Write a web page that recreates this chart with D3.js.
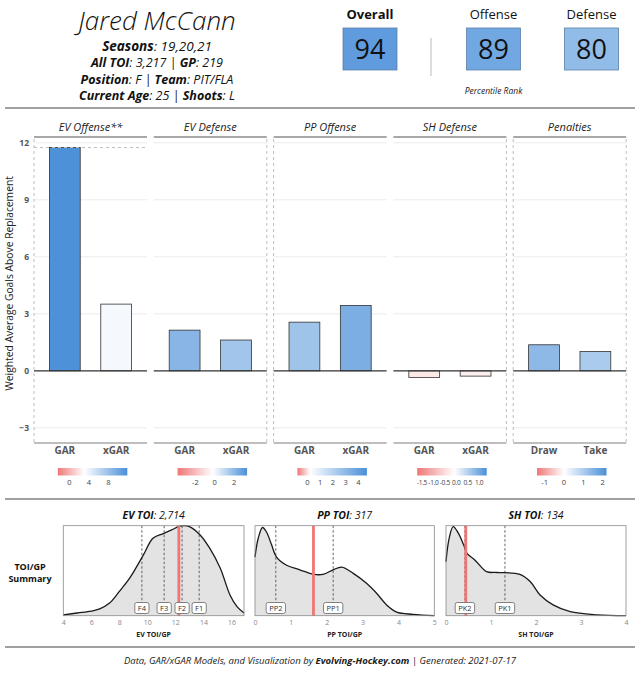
<!DOCTYPE html>
<html>
<head>
<meta charset="utf-8">
<script src="https://cdn.jsdelivr.net/npm/d3@7"></script>
<style>
  body { margin: 0; background: #fff; }
  svg { font-family: 'Open Sans', 'DejaVu Sans', sans-serif; }
</style>
</head>
<body>
<svg id="viz" width="640" height="680"></svg>
<script>
const playerName = 'Jared McCann'
const infoLines = [
  [['Seasons', true], [': 19,20,21', false]],
  [['All TOI', true], [': 3,217 | ', false], ['GP', true], [': 219', false]],
  [['Position', true], [': F | ', false], ['Team', true], [': PIT/FLA', false]],
  [['Current Age', true], [': 25 | ', false], ['Shoots', true], [': L', false]]
]
const rankLabels = ['Overall', 'Offense', 'Defense']
const rankValues = [94, 89, 80]

const categories = ['EV Offense**', 'EV Defense', 'PP Offense', 'SH Defense', 'Penalties']
const barLabels = [['GAR', 'xGAR'], ['GAR', 'xGAR'], ['GAR', 'xGAR'], ['GAR', 'xGAR'], ['Draw', 'Take']]
const barValues = [[11.75, 3.51], [2.14, 1.62], [2.56, 3.44], [-0.35, -0.28], [1.37, 1.02]]
// low / mid (white) / high of each panel's fill legend
const legendDomains = [[-2.4, 3, 11.9], [-3.84, -0.2, 3.35], [-0.78, 0.2, 4.66], [-1.71, -0.08, 1.33], [-1.4, 0, 2.2]]
const legendTicks = [[0, 4, 8], [-2, 0, 2], [0, 1, 2, 3, 4], [-1.5, -1, -0.5, 0, 0.5, 1], [-1, 0, 1, 2]]
const yTicks = [-3, 0, 3, 6, 9, 12]

// TOI/GP densities (relative height), league markers and the player's own TOI/GP
const toiTitles = [['EV TOI', ': 2,714'], ['PP TOI', ': 317'], ['SH TOI', ': 134']]
const toiAxisTitles = ['EV TOI/GP', 'PP TOI/GP', 'SH TOI/GP']
const toiDomains = [[4, 16.9], [0, 5], [0, 4]]
const toiTicks = [[4, 6, 8, 10, 12, 14, 16], [0, 1, 2, 3, 4, 5], [0, 1, 2, 3, 4]]
const evDensity = [[4, 0.01], [5, 0.03], [6, 0.05], [6.6, 0.075], [7.3, 0.14], [8, 0.27], [8.75, 0.42], [9.7, 0.67],
  [10.4, 0.86], [11.1, 0.91], [11.7, 0.95], [12.3, 0.995], [12.6, 1.0], [13, 0.99], [13.75, 0.9], [14.45, 0.75],
  [15.2, 0.53], [15.9, 0.23], [16.4, 0.1], [16.9, 0.03]]
const ppDensity = [[0, 0.65], [0.09, 0.86], [0.21, 0.98], [0.32, 0.93], [0.46, 0.79], [0.6, 0.65], [0.88, 0.56],
  [1.25, 0.51], [1.63, 0.46], [1.9, 0.46], [2.18, 0.51], [2.42, 0.54], [2.74, 0.47], [3.11, 0.36], [3.39, 0.25],
  [3.67, 0.12], [3.95, 0.04], [4.41, 0.015], [5, 0.0]]
const shDensity = [[0, 0.6], [0.07, 0.86], [0.16, 0.99], [0.27, 0.92], [0.39, 0.79], [0.47, 0.69], [0.64, 0.62],
  [0.9, 0.49], [1.13, 0.48], [1.64, 0.46], [1.87, 0.38], [2.09, 0.23], [2.38, 0.12], [2.76, 0.045], [3.35, 0.01], [4, 0.0]]
const toiMarkers = [
  [['F4', 9.61], ['F3', 11.2], ['F2', 12.48], ['F1', 13.7]],
  [['PP2', 0.58], ['PP1', 2.18]],
  [['PK2', 0.42], ['PK1', 1.31]]
]
const playerToiGp = [12.25, 1.63, 0.44]

const footerParts = [['Data, GAR/xGAR Models, and Visualization by ', false], ['Evolving-Hockey.com', true], [' | Generated: 2021-07-17', false]]

// ---- Drawing ----
const svg = d3.select('#viz')
const RED = '#f07676', BLUE = '#4a8fd8'

let rule = (y) => {
  svg.append('line').attr('x1', 5).attr('x2', 635).attr('y1', y).attr('y2', y)
    .attr('stroke', '#a0a0a0').attr('stroke-width', 2)
}

// header: name and info lines
svg.append('text').attr('x', 157).attr('y', 30).attr('text-anchor', 'middle')
  .attr('font-size', 26).attr('font-style', 'italic').attr('font-weight', 300).attr('fill', '#111')
  .text(playerName)

infoLines.forEach((line, i) => {
  let t = svg.append('text').attr('x', 157).attr('y', 51 + i * 16.3).attr('text-anchor', 'middle')
    .attr('font-size', i === 0 ? 13.5 : 12.5).attr('font-style', 'italic').attr('fill', '#111')
  line.forEach(seg => {
    t.append('tspan').attr('font-weight', seg[1] ? 'bold' : 'normal').text(seg[0])
  })
})

// percentile rank boxes
const rankX = [370, 493.5, 591.5]
const rankColor = d3.scaleLinear().domain([50, 100]).range(['#ffffff', BLUE])
rankLabels.forEach((lab, i) => {
  svg.append('text').attr('x', rankX[i]).attr('y', 19).attr('text-anchor', 'middle')
    .attr('font-size', 13).attr('font-weight', i === 0 ? 'bold' : 'normal').attr('fill', '#111').text(lab)
  svg.append('rect').attr('x', rankX[i] - 27).attr('y', 28).attr('width', 54).attr('height', 42)
    .attr('fill', rankColor(rankValues[i])).attr('stroke', '#5c7fa8').attr('stroke-width', 0.8)
  svg.append('text').attr('x', rankX[i]).attr('y', 59).attr('text-anchor', 'middle')
    .attr('font-size', 27).attr('fill', '#111').text(rankValues[i])
})
svg.append('line').attr('x1', 431).attr('x2', 431).attr('y1', 38).attr('y2', 76)
  .attr('stroke', '#bbb').attr('stroke-width', 1)
svg.append('text').attr('x', 493.5).attr('y', 94).attr('text-anchor', 'middle')
  .attr('font-size', 8.5).attr('font-style', 'italic').attr('fill', '#222').text('Percentile Rank')

rule(108)

// ---- GAR bar panels ----
const panelX0 = 34, panelW = 113, panelStep = 119.8
const panelTop = 139, panelBottom = 443
const y = d3.scaleLinear().domain([-3.8, 12.2]).range([panelBottom, panelTop])

svg.append('text').attr('transform', `translate(13,${y(4.6)}) rotate(-90)`).attr('text-anchor', 'middle')
  .attr('font-size', 10.3).attr('fill', '#222').text('Weighted Average Goals Above Replacement')

svg.append('g').attr('transform', `translate(${panelX0},0)`)
  .call(d3.axisLeft(y).tickValues(yTicks).tickSize(0).tickPadding(5))
  .call(g => g.select('.domain').remove())
  .call(g => g.selectAll('text').attr('font-size', 8.5).attr('font-weight', 'bold').attr('fill', '#555')
    .attr('font-family', "'Open Sans', sans-serif"))

categories.forEach((cat, p) => {
  let left = panelX0 + p * panelStep
  let g = svg.append('g').attr('transform', `translate(${left},0)`)
  let x = d3.scaleBand().domain(barLabels[p]).range([0, panelW]).paddingInner(0.4).paddingOuter(0.3)
  let dom = legendDomains[p]
  let fill = d3.scaleLinear().domain(dom).range([RED, '#ffffff', BLUE]).interpolate(d3.interpolateRgb)

  // grid
  g.selectAll('.grid').data(yTicks.filter(d => d !== 0)).enter().append('line')
    .attr('x1', 0).attr('x2', panelW).attr('y1', d => y(d)).attr('y2', d => y(d))
    .attr('stroke', '#ebebeb').attr('stroke-width', 1)

  // strip
  g.append('text').attr('x', panelW / 2).attr('y', 131).attr('text-anchor', 'middle')
    .attr('font-size', 11).attr('font-style', 'italic').attr('fill', '#222').text(cat)
  g.append('line').attr('x1', 0).attr('x2', panelW).attr('y1', 137).attr('y2', 137)
    .attr('stroke', '#a8a8a8').attr('stroke-width', 2)
  g.append('line').attr('x1', 0).attr('x2', panelW).attr('y1', panelBottom).attr('y2', panelBottom)
    .attr('stroke', '#a8a8a8').attr('stroke-width', 1.5)

  // bars
  g.selectAll('.bar').data(barValues[p]).enter().append('rect')
    .attr('x', (d, i) => x(barLabels[p][i]))
    .attr('width', x.bandwidth())
    .attr('y', d => y(Math.max(0, d)))
    .attr('height', d => Math.abs(y(d) - y(0)))
    .attr('fill', d => fill(d))
    .attr('stroke', '#333').attr('stroke-width', 0.8)

  g.append('line').attr('x1', 0).attr('x2', panelW).attr('y1', y(0)).attr('y2', y(0))
    .attr('stroke', '#333').attr('stroke-width', 1.2)

  // category labels
  g.selectAll('.xl').data(barLabels[p]).enter().append('text')
    .attr('x', d => x(d) + x.bandwidth() / 2).attr('y', 454).attr('text-anchor', 'middle')
    .attr('font-size', 10).attr('font-weight', 'bold').attr('fill', '#555').text(d => d)

  // colour legend
  let lx = d3.scaleLinear().domain([dom[0], dom[2]]).range([panelW / 2 - 32.7, panelW / 2 + 36.8])
  let gradId = 'grad' + p
  let grad = svg.append('defs').append('linearGradient').attr('id', gradId)
  dom.forEach(v => {
    grad.append('stop').attr('offset', (v - dom[0]) / (dom[2] - dom[0])).attr('stop-color', fill(v))
  })
  g.append('rect').attr('x', lx(dom[0])).attr('y', 468).attr('width', lx(dom[2]) - lx(dom[0])).attr('height', 7.5)
    .attr('fill', `url(#${gradId})`)
  let fmt = p === 3 ? d3.format('.1f') : d3.format('d')
  g.selectAll('.lt').data(legendTicks[p]).enter().append('text')
    .attr('x', d => lx(d)).attr('y', 485).attr('text-anchor', 'middle')
    .attr('font-size', p === 3 ? 6.6 : 7.5).attr('letter-spacing', p === 3 ? -0.3 : 0).attr('fill', '#444')
    .text(d => fmt(d).replace(/\u2212/g, '-'))
})

// dashed guide lines
const dashedEdges = [[0, 0], [1, panelW], [2, 0], [3, panelW], [4, 0], [4, panelW]]
dashedEdges.forEach(e => {
  let xe = panelX0 + e[0] * panelStep + e[1]
  svg.append('line').attr('x1', xe).attr('x2', xe).attr('y1', panelTop).attr('y2', panelBottom - 1)
    .attr('stroke', '#bdbdbd').attr('stroke-width', 1).attr('stroke-dasharray', '3,3')
})
svg.append('line').attr('x1', panelX0).attr('x2', panelX0 + panelW)
  .attr('y1', y(barValues[0][0])).attr('y2', y(barValues[0][0]))
  .attr('stroke', '#bdbdbd').attr('stroke-width', 1).attr('stroke-dasharray', '3,3')

rule(499)

// ---- TOI/GP density panels ----
svg.append('text').attr('x', 30).attr('y', 570).attr('text-anchor', 'middle')
  .attr('font-size', 9).attr('font-weight', 'bold').attr('fill', '#111').text('TOI/GP')
svg.append('text').attr('x', 30).attr('y', 582).attr('text-anchor', 'middle')
  .attr('font-size', 9).attr('font-weight', 'bold').attr('fill', '#111').text('Summary')

const densPanels = [[63.3, 244], [255, 434.3], [446, 626]]
const densities = [evDensity, ppDensity, shDensity]
const dTop = 525.7, dBottom = 615.7
const dy = d3.scaleLinear().domain([0, 1]).range([dBottom, dTop])

densPanels.forEach((pr, k) => {
  let x = d3.scaleLinear().domain(toiDomains[k]).range(pr)
  let g = svg.append('g')

  let area = d3.area().x(d => x(d[0])).y0(dBottom).y1(d => dy(d[1])).curve(d3.curveCatmullRom)
  let line = d3.line().x(d => x(d[0])).y(d => dy(d[1])).curve(d3.curveCatmullRom)

  g.append('path').datum(densities[k]).attr('d', area).attr('fill', '#e3e3e3')

  toiMarkers[k].forEach(m => {
    g.append('line').attr('x1', x(m[1])).attr('x2', x(m[1])).attr('y1', dTop).attr('y2', dBottom)
      .attr('stroke', '#555').attr('stroke-width', 0.9).attr('stroke-dasharray', '2.5,2')
  })

  g.append('path').datum(densities[k]).attr('d', line).attr('fill', 'none')
    .attr('stroke', '#1a1a1a').attr('stroke-width', 1.3)

  g.append('line').attr('x1', x(playerToiGp[k])).attr('x2', x(playerToiGp[k])).attr('y1', dTop).attr('y2', dBottom)
    .attr('stroke', RED).attr('stroke-width', 2.8)

  // marker labels
  toiMarkers[k].forEach(m => {
    let lab = g.append('g')
    let t = lab.append('text').attr('x', x(m[1])).attr('y', 610.5).attr('text-anchor', 'middle')
      .attr('font-size', 7.5).attr('fill', '#333').text(m[0])
    let w = t.node().getComputedTextLength() + 6
    lab.insert('rect', 'text').attr('x', x(m[1]) - w / 2).attr('y', 602.5).attr('width', w).attr('height', 11)
      .attr('rx', 2).attr('fill', '#fff').attr('stroke', '#666').attr('stroke-width', 0.8)
  })

  g.append('rect').attr('x', pr[0]).attr('y', dTop).attr('width', pr[1] - pr[0]).attr('height', dBottom - dTop)
    .attr('fill', 'none').attr('stroke', '#8a8a8a').attr('stroke-width', 0.8)

  g.append('g').attr('transform', `translate(0,${dBottom})`)
    .call(d3.axisBottom(x).tickValues(toiTicks[k]).tickSize(0).tickPadding(4).tickFormat(d3.format('d')))
    .call(a => a.select('.domain').remove())
    .call(a => a.selectAll('text').attr('font-size', 7).attr('fill', '#888')
      .attr('font-family', "'Open Sans', sans-serif"))

  g.append('text').attr('x', (pr[0] + pr[1]) / 2).attr('y', 637).attr('text-anchor', 'middle')
    .attr('font-size', 7).attr('font-weight', 'bold').attr('fill', '#222').text(toiAxisTitles[k])

  let tt = g.append('text').attr('x', (pr[0] + pr[1]) / 2).attr('y', 519).attr('text-anchor', 'middle')
    .attr('font-size', 10.5).attr('font-style', 'italic').attr('fill', '#111')
  tt.append('tspan').attr('font-weight', 'bold').text(toiTitles[k][0])
  tt.append('tspan').text(toiTitles[k][1])
})

rule(647)

let foot = svg.append('text').attr('x', 320).attr('y', 664).attr('text-anchor', 'middle')
  .attr('font-size', 9.5).attr('font-style', 'italic').attr('fill', '#222')
footerParts.forEach(p => {
  foot.append('tspan').attr('font-weight', p[1] ? 'bold' : 'normal').text(p[0])
})
</script>
</body>
</html>
